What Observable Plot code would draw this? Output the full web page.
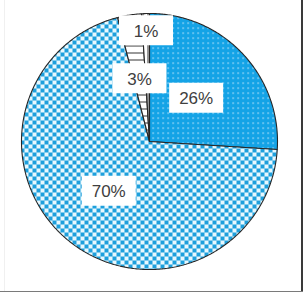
<!DOCTYPE html>
<html>
<head>
<meta charset="utf-8">
<script src="https://cdn.jsdelivr.net/npm/d3@7"></script>
<script src="https://cdn.jsdelivr.net/npm/@observablehq/plot@0.6"></script>
<style>
  html, body { margin: 0; padding: 0; background: #fff; }
  #wrap { position: relative; width: 304px; height: 293px; overflow: hidden; }
  #wrap svg { position: absolute; left: 0; top: 0; }
  .bR { position: absolute; left: 301px; top: 0; width: 2px; height: 292px; background: #3a3a3a; }
  .bB { position: absolute; left: 0; top: 291px; width: 303px; height: 1px; background: #7a7a7a; }
  .bL { position: absolute; left: 4px; top: 0; width: 1px; height: 291px; background: #f0f0f0; }
</style>
</head>
<body>
<div id="wrap"></div>
<script>
// ---- data ----
const categories = ["A", "B", "C", "D"];
const values = [26, 70, 3, 1];
const labels = ["26%", "70%", "3%", "1%"];

// ---- styling config ----
const fills = ["url(#pDots)", "url(#pCheck)", "url(#pHoriz)", "url(#pVert)"];
const labelRadius = [0.5, 0.5, 0.5, 0.87];
const cx = 149, cy = 141, R = 128, W = 304, H = 293;

const arcs = d3.pie().sort(null).value(d => d)(values);

// slice outlines as closed paths (center -> arc -> center)
const slicePts = [];
arcs.forEach((a, i) => {
  const n = Math.max(4, Math.ceil((a.endAngle - a.startAngle) / 0.01));
  slicePts.push({key: categories[i], x: 0, y: 0, f: fills[i]});
  for (let k = 0; k <= n; k++) {
    const t = a.startAngle + (a.endAngle - a.startAngle) * k / n;
    slicePts.push({key: categories[i], x: Math.sin(t), y: Math.cos(t), f: fills[i]});
  }
  slicePts.push({key: categories[i], x: 0, y: 0, f: fills[i]});
});

const labelPts = arcs.map((a, i) => {
  const m = (a.startAngle + a.endAngle) / 2;
  return {label: labels[i], x: labelRadius[i] * Math.sin(m), y: labelRadius[i] * Math.cos(m)};
});

const boxSymbol = {
  draw(ctx) {
    ctx.moveTo(-27, -15); ctx.lineTo(27, -15); ctx.lineTo(27, 15); ctx.lineTo(-27, 15); ctx.closePath();
  }
};

const svg = Plot.plot({
  width: W, height: H,
  margin: 0,
  x: {domain: [-cx / R, (W - cx) / R], range: [0, W], axis: null},
  y: {domain: [-(H - cy) / R, cy / R], range: [H, 0], axis: null},
  color: {type: "identity"},
  style: {background: "transparent"},
  marks: [
    Plot.line(slicePts, {x: "x", y: "y", z: "key", fill: "f", stroke: "#262626", strokeWidth: 1.1, strokeLinejoin: "miter"}),
    Plot.dot(labelPts, {x: "x", y: "y", symbol: boxSymbol, fill: "white", stroke: "none", r: 10}),
    Plot.text(labelPts, {x: "x", y: "y", text: "label", fill: "#404040", fontSize: 17, fontFamily: "Liberation Sans, Arial, sans-serif", dy: 1})
  ]
});

// patterns
const defs = d3.select(svg).insert("defs", ":first-child");
const blue = "#1d9fdc";
{
  const p = defs.append("pattern").attr("id", "pCheck").attr("patternUnits", "userSpaceOnUse").attr("width", 8).attr("height", 8);
  p.append("rect").attr("width", 8).attr("height", 8).attr("fill", "#e8f8fe");
  p.append("rect").attr("x", 0).attr("y", 0).attr("width", 4).attr("height", 4).attr("fill", blue);
  p.append("rect").attr("x", 4).attr("y", 4).attr("width", 4).attr("height", 4).attr("fill", blue);
}
{
  const p = defs.append("pattern").attr("id", "pDots").attr("patternUnits", "userSpaceOnUse").attr("width", 5).attr("height", 5);
  p.append("rect").attr("width", 5).attr("height", 5).attr("fill", "#14a3e6");
  p.append("rect").attr("x", 2).attr("y", 2).attr("width", 1.2).attr("height", 1.2).attr("fill", "#e8f6ff");
}
{
  const p = defs.append("pattern").attr("id", "pHoriz").attr("patternUnits", "userSpaceOnUse").attr("width", 7).attr("height", 7);
  p.append("rect").attr("width", 7).attr("height", 7).attr("fill", "#ffffff");
  p.append("rect").attr("x", 0).attr("y", 3).attr("width", 7).attr("height", 1).attr("fill", "#333");
}
{
  const p = defs.append("pattern").attr("id", "pVert").attr("patternUnits", "userSpaceOnUse").attr("width", 5).attr("height", 5);
  p.append("rect").attr("width", 5).attr("height", 5).attr("fill", "#ffffff");
  p.append("rect").attr("x", 2).attr("y", 0).attr("width", 1).attr("height", 5).attr("fill", "#333");
}

const wrap = document.getElementById("wrap");
wrap.appendChild(svg);
for (const c of ["bL", "bR", "bB"]) {
  const d = document.createElement("div"); d.className = c; wrap.appendChild(d);
}
</script>
</body>
</html>
